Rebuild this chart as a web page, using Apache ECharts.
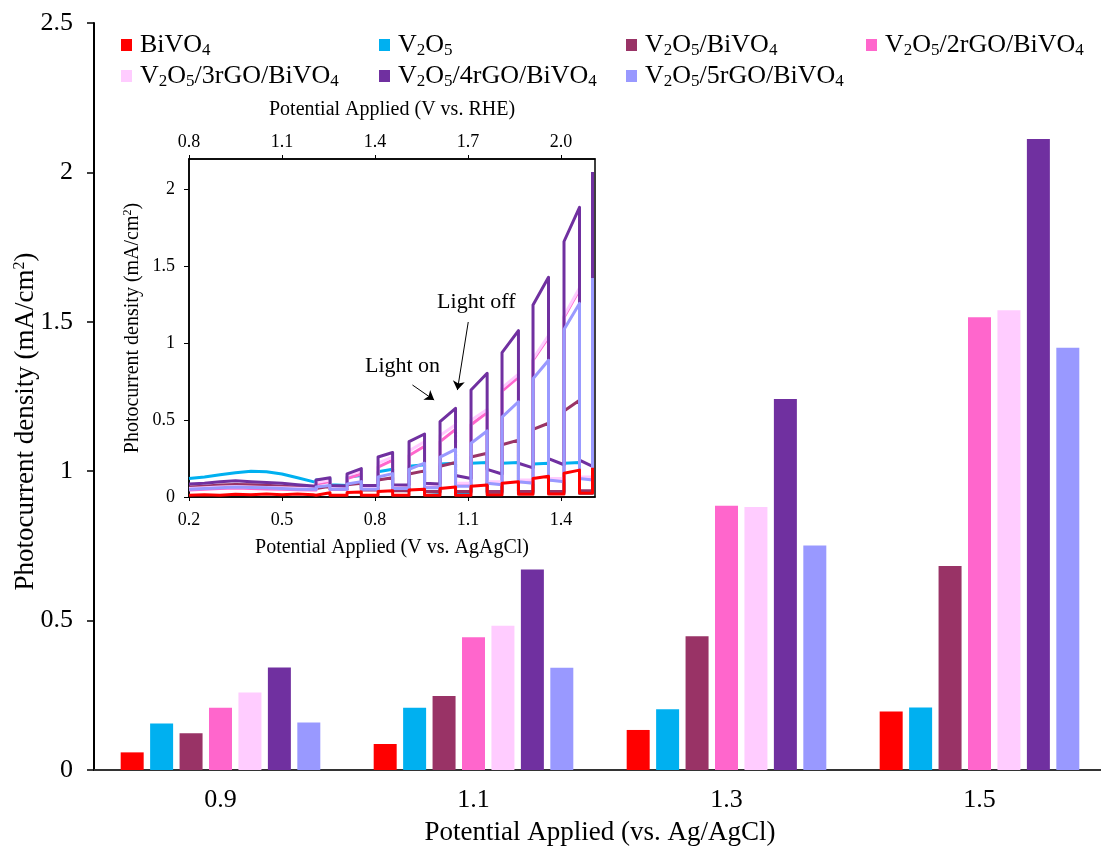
<!DOCTYPE html>
<html>
<head>
<meta charset="utf-8">
<script src="https://cdn.jsdelivr.net/npm/echarts@6/dist/echarts.min.js"></script>
<style>
html,body{margin:0;padding:0;background:#fff;}
#chart{width:1101px;height:847px;}
</style>
</head>
<body>
<div id="chart"></div>
<script>
// ---------- data ----------
const categories = ['0.9', '1.1', '1.3', '1.5'];
const seriesNames = ['BiVO4', 'V2O5', 'V2O5/BiVO4', 'V2O5/2rGO/BiVO4', 'V2O5/3rGO/BiVO4', 'V2O5/4rGO/BiVO4', 'V2O5/5rGO/BiVO4'];

const barBiVO4   = [0.059, 0.087, 0.134, 0.196];
const barV2O5    = [0.156, 0.208, 0.203, 0.209];
const barV2O5Bi  = [0.123, 0.248, 0.448, 0.683];
const bar2rGO    = [0.208, 0.444, 0.884, 1.515];
const bar3rGO    = [0.259, 0.483, 0.880, 1.539];
const bar4rGO    = [0.343, 0.671, 1.242, 2.112];
const bar5rGO    = [0.159, 0.342, 0.751, 1.413];

// inset: chopped-light LSV, potential (V vs. Ag/AgCl)
const insetV = [
  0.20, 0.25, 0.30, 0.35, 0.40, 0.45, 0.50, 0.55, 0.60,
  0.61, 0.61, 0.655, 0.655,
  0.71, 0.71, 0.756, 0.756,
  0.81, 0.81, 0.857, 0.857,
  0.91, 0.91, 0.96, 0.96,
  1.01, 1.01, 1.06, 1.06,
  1.11, 1.11, 1.162, 1.162,
  1.21, 1.21, 1.263, 1.263,
  1.31, 1.31, 1.36, 1.36,
  1.41, 1.41, 1.46, 1.46,
  1.502, 1.502
];
const lsvBiVO4 = [
  0.012, 0.015, 0.012, 0.018, 0.015, 0.020, 0.015, 0.020, 0.015,
  0.012, 0.025, 0.028, 0.012,
  0.012, 0.030, 0.032, 0.012,
  0.012, 0.035, 0.040, 0.012,
  0.012, 0.045, 0.050, 0.012,
  0.012, 0.055, 0.065, 0.012,
  0.012, 0.070, 0.078, 0.015,
  0.015, 0.090, 0.100, 0.018,
  0.018, 0.120, 0.135, 0.020,
  0.020, 0.155, 0.175, 0.025,
  0.025, 0.190
];
const lsvV2O5 = [
  0.120, 0.130, 0.145, 0.158, 0.168, 0.165, 0.150, 0.125, 0.100,
  0.095, 0.110, 0.115, 0.080,
  0.075, 0.130, 0.140, 0.060,
  0.055, 0.165, 0.180, 0.045,
  0.040, 0.200, 0.210, 0.035,
  0.030, 0.215, 0.220, 0.030,
  0.030, 0.220, 0.225, 0.028,
  0.028, 0.220, 0.225, 0.028,
  0.028, 0.215, 0.220, 0.028,
  0.028, 0.220, 0.225, 0.025,
  0.025, 0.220
];
const lsvV2O5Bi = [
  0.065, 0.070, 0.078, 0.082, 0.080, 0.076, 0.070, 0.065, 0.060,
  0.055, 0.065, 0.070, 0.050,
  0.050, 0.080, 0.090, 0.045,
  0.045, 0.110, 0.125, 0.040,
  0.040, 0.150, 0.170, 0.035,
  0.035, 0.200, 0.225, 0.035,
  0.035, 0.260, 0.285, 0.035,
  0.035, 0.340, 0.370, 0.035,
  0.035, 0.440, 0.480, 0.035,
  0.035, 0.560, 0.630, 0.040,
  0.040, 0.700
];
const lsv2rGO = [
  0.045, 0.050, 0.055, 0.058, 0.055, 0.052, 0.050, 0.047, 0.045,
  0.045, 0.085, 0.100, 0.050,
  0.050, 0.120, 0.150, 0.055,
  0.055, 0.195, 0.240, 0.060,
  0.060, 0.270, 0.330, 0.070,
  0.070, 0.360, 0.440, 0.080,
  0.080, 0.470, 0.550, 0.090,
  0.090, 0.690, 0.780, 0.100,
  0.100, 0.890, 1.040, 0.110,
  0.110, 1.170, 1.350, 0.120,
  0.120, 1.400
];
const lsv3rGO = [
  0.055, 0.060, 0.065, 0.068, 0.065, 0.062, 0.060, 0.057, 0.055,
  0.055, 0.095, 0.110, 0.060,
  0.060, 0.140, 0.170, 0.065,
  0.065, 0.220, 0.260, 0.070,
  0.070, 0.300, 0.360, 0.080,
  0.080, 0.400, 0.470, 0.090,
  0.090, 0.500, 0.570, 0.100,
  0.100, 0.710, 0.800, 0.110,
  0.110, 0.900, 1.050, 0.120,
  0.120, 1.180, 1.360, 0.130,
  0.130, 1.420
];
const lsv4rGO = [
  0.085, 0.090, 0.100, 0.105, 0.100, 0.095, 0.090, 0.080, 0.072,
  0.070, 0.110, 0.125, 0.075,
  0.072, 0.150, 0.185, 0.075,
  0.075, 0.260, 0.290, 0.080,
  0.078, 0.360, 0.410, 0.090,
  0.085, 0.490, 0.577, 0.140,
  0.120, 0.696, 0.805, 0.180,
  0.150, 0.940, 1.083, 0.220,
  0.190, 1.250, 1.430, 0.250,
  0.210, 1.663, 1.885, 0.240,
  0.200, 2.116
];
const lsv5rGO = [
  0.050, 0.055, 0.060, 0.065, 0.062, 0.060, 0.055, 0.050, 0.050,
  0.050, 0.065, 0.075, 0.050,
  0.050, 0.085, 0.100, 0.050,
  0.050, 0.130, 0.152, 0.055,
  0.055, 0.180, 0.220, 0.060,
  0.060, 0.260, 0.310, 0.070,
  0.070, 0.350, 0.430, 0.090,
  0.080, 0.520, 0.620, 0.100,
  0.090, 0.770, 0.890, 0.110,
  0.100, 1.090, 1.260, 0.120,
  0.110, 1.425
];

// ---------- styles ----------
const colors = ['#FF0000', '#00B0F0', '#993366', '#FF66CC', '#FFCCFF', '#7030A0', '#9999FF'];
const FONT = 'Liberation Serif';

const barData = [barBiVO4, barV2O5, barV2O5Bi, bar2rGO, bar3rGO, bar4rGO, bar5rGO];
const lsvData = [lsvBiVO4, lsvV2O5, lsvV2O5Bi, lsv2rGO, lsv3rGO, lsv4rGO, lsv5rGO];

function subFmt(name) { return name.replace(/([A-Za-z])(\d)/g, '$1{s|$2}'); }

const legendPos = [
  [121, 32], [379, 32], [626, 32], [866, 32],
  [121, 63], [379, 63], [626, 63]
];
const legends = seriesNames.map((n, i) => ({
  data: [n],
  left: legendPos[i][0],
  top: legendPos[i][1],
  padding: 0,
  icon: 'rect',
  itemWidth: 11,
  itemHeight: 12,
  selectedMode: false,
  formatter: subFmt,
  textStyle: {
    fontFamily: FONT, fontSize: 26, color: '#000', padding: [0, 0, 0, 3],
    rich: { s: { fontFamily: FONT, fontSize: 17, color: '#000', padding: [12, 0, 0, 0] } }
  }
}));

const barSeries = seriesNames.map((n, i) => ({
  name: n,
  type: 'bar',
  xAxisIndex: 0,
  yAxisIndex: 0,
  data: barData[i],
  barWidth: 23,
  barGap: '28%',
  itemStyle: { color: colors[i] },
  emphasis: { disabled: true }
}));

const lineOrder = [1, 2, 3, 4, 5, 6, 0];
const lineSeries = lineOrder.map(i => ({
  name: seriesNames[i],
  type: 'line',
  xAxisIndex: 1,
  yAxisIndex: 1,
  data: insetV.map((v, k) => [v, lsvData[i][k]]),
  showSymbol: false,
  symbol: 'none',
  lineStyle: { color: colors[i], width: 3, join: 'round' },
  itemStyle: { color: colors[i] },
  emphasis: { disabled: true },
  clip: true,
  z: 3
}));

// annotations attached to the purple inset curve
lineSeries[4].markLine = {
  silent: true,
  symbol: ['none', 'arrow'],
  symbolSize: 9,
  label: { show: false },
  lineStyle: { color: '#000', width: 1, type: 'solid' },
  data: [
    [{ coord: [0.921, 0.729] }, { coord: [0.991, 0.631] }],
    [{ coord: [1.101, 1.139] }, { coord: [1.066, 0.696] }]
  ]
};
lineSeries[4].markPoint = {
  silent: true,
  symbol: 'circle',
  symbolSize: 0,
  label: { show: true, position: 'inside', formatter: p => p.name, fontFamily: FONT, fontSize: 22, color: '#000' },
  data: [
    { name: 'Light on', coord: [0.889, 0.851] },
    { name: 'Light off', coord: [1.127, 1.27] }
  ]
};

const chart = echarts.init(document.getElementById('chart'), null, { renderer: 'canvas' });
chart.setOption({
  animation: false,
  backgroundColor: '#fff',
  legend: legends,
  grid: [
    { left: 94, top: 23, width: 1012, height: 747, outerBoundsMode: 'none', containLabel: false },
    { left: 189, top: 159, width: 406, height: 338, outerBoundsMode: 'none', containLabel: false, show: true, borderColor: '#000', borderWidth: 1.5, backgroundColor: 'transparent' }
  ],
  xAxis: [
    {
      type: 'category', gridIndex: 0, data: categories,
      axisLine: { lineStyle: { color: '#333', width: 2 } },
      axisTick: { show: false },
      axisLabel: { fontFamily: FONT, fontSize: 26, color: '#000', margin: 17 },
      name: 'Potential Applied (vs. Ag/AgCl)', nameLocation: 'middle', nameGap: 49, nameMoveOverlap: false,
      nameTextStyle: { fontFamily: FONT, fontSize: 27, color: '#000' }
    },
    {
      type: 'value', gridIndex: 1, min: 0.2, max: 1.51, interval: 0.3,
      axisLine: { show: true, onZero: false, lineStyle: { color: '#000', width: 1.5 } },
      axisTick: { show: true, inside: false, length: 4, lineStyle: { color: '#000' } },
      splitLine: { show: false },
      axisLabel: { fontFamily: FONT, fontSize: 18, color: '#000', margin: 14, showMaxLabel: false, formatter: v => v.toFixed(1) },
      name: 'Potential Applied (V vs. AgAgCl)', nameLocation: 'middle', nameGap: 41, nameMoveOverlap: false,
      nameTextStyle: { fontFamily: FONT, fontSize: 20, color: '#000' }
    },
    {
      type: 'value', gridIndex: 1, position: 'top', min: 0.8, max: 2.11, interval: 0.3,
      axisLine: { show: true, onZero: false, lineStyle: { color: '#000', width: 1.5 } },
      axisTick: { show: true, length: 4, lineStyle: { color: '#000' } },
      splitLine: { show: false },
      axisLabel: { fontFamily: FONT, fontSize: 18, color: '#000', margin: 8, showMaxLabel: false, formatter: v => v.toFixed(1) },
      name: 'Potential Applied (V vs. RHE)', nameLocation: 'middle', nameGap: 39, nameMoveOverlap: false,
      nameTextStyle: { fontFamily: FONT, fontSize: 20, color: '#000' }
    }
  ],
  yAxis: [
    {
      type: 'value', gridIndex: 0, min: 0, max: 2.5, interval: 0.5,
      axisLine: { show: true, lineStyle: { color: '#000', width: 2 } },
      axisTick: { show: true, length: 7, lineStyle: { color: '#000', width: 1.5 } },
      splitLine: { show: false },
      axisLabel: { fontFamily: FONT, fontSize: 26, color: '#000', margin: 21 },
      name: 'Photocurrent density (mA/cm{p|2})', nameLocation: 'middle', nameGap: 55, nameMoveOverlap: false,
      nameTextStyle: {
        fontFamily: FONT, fontSize: 27, color: '#000', padding: [0, 50, 0, 0],
        rich: { p: { fontFamily: FONT, fontSize: 16, color: '#000', padding: [0, 0, 11, 0] } }
      }
    },
    {
      type: 'value', gridIndex: 1, min: 0, max: 2.2, interval: 0.5,
      axisLine: { show: true, lineStyle: { color: '#000', width: 1.5 } },
      axisTick: { show: true, length: 5, lineStyle: { color: '#000' } },
      splitLine: { show: false },
      axisLabel: { fontFamily: FONT, fontSize: 18, color: '#000', margin: 14, showMaxLabel: false },
      name: 'Photocurrent density (mA/cm{p|2})', nameLocation: 'middle', nameGap: 46,
      nameTextStyle: {
        fontFamily: FONT, fontSize: 20, color: '#000',
        rich: { p: { fontFamily: FONT, fontSize: 12, color: '#000', padding: [0, 0, 9, 0] } }
      }
    }
  ],
  series: barSeries.concat(lineSeries)
});
</script>
</body>
</html>
